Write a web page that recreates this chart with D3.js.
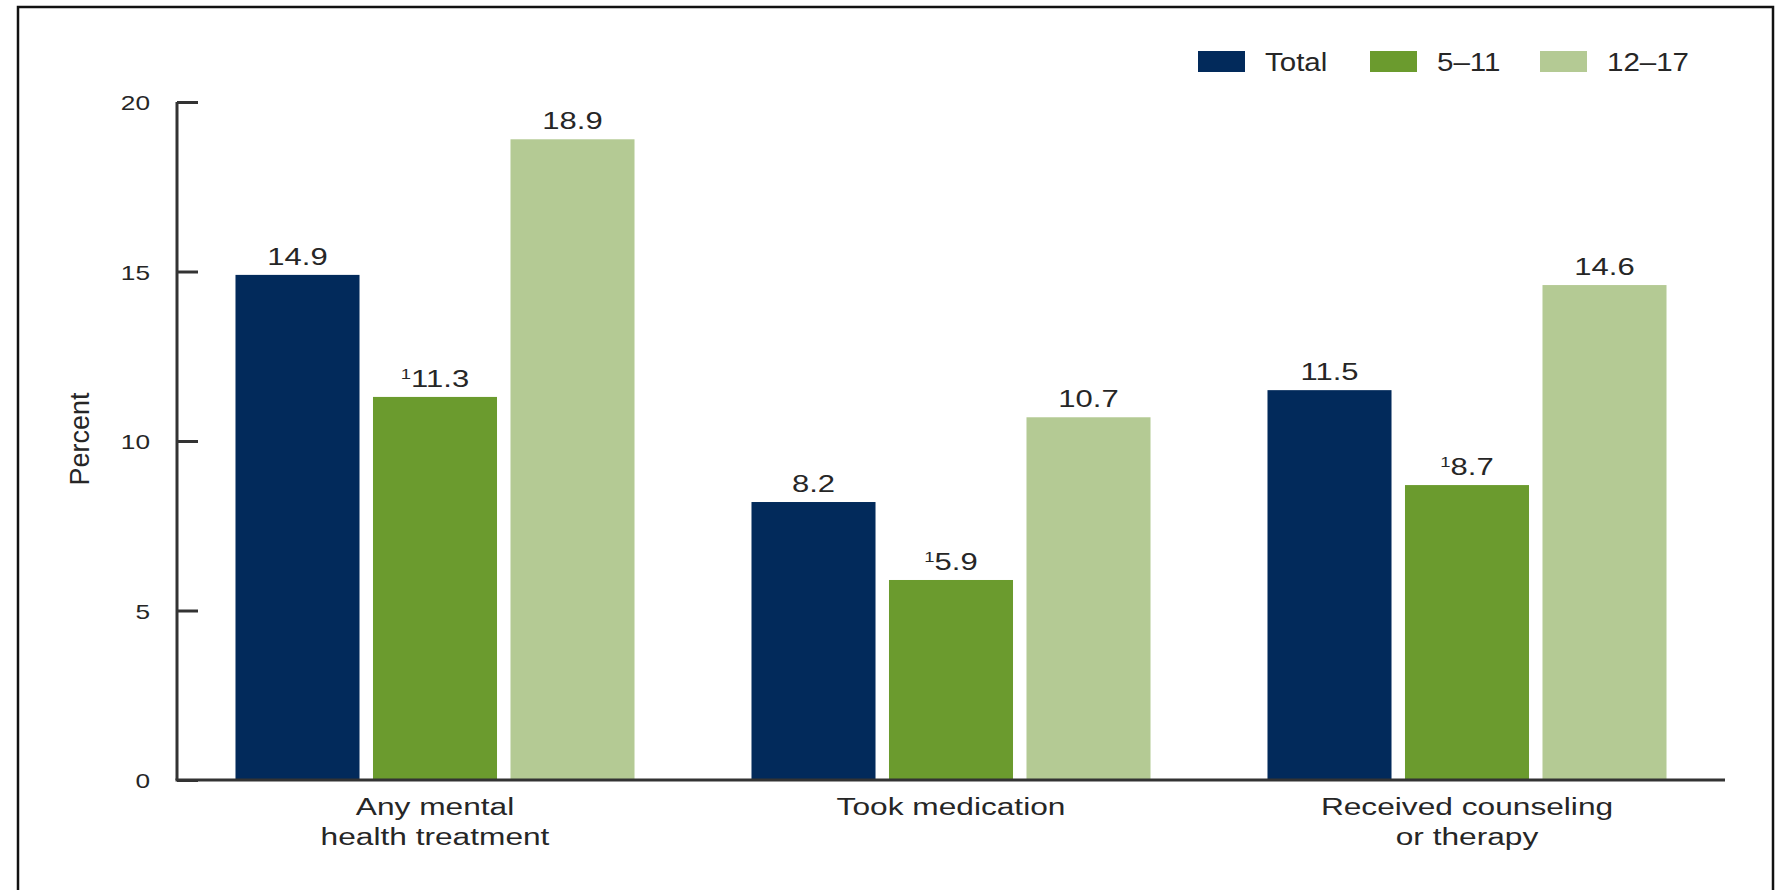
<!DOCTYPE html>
<html>
<head>
<meta charset="utf-8">
<script src="https://cdn.jsdelivr.net/npm/d3@7"></script>
<style>
  html, body { margin: 0; padding: 0; background: #fff; }
  svg { display: block; font-family: "Liberation Sans", Arial, Helvetica, sans-serif; }
</style>
</head>
<body>
<svg id="chart" width="1777" height="890"></svg>
<script>
// Mental health treatment in the past 12 months, children by age group (percent)
const categories = [["Any mental", "health treatment"], ["Took medication"], ["Received counseling", "or therapy"]];
const seriesNames = ["Total", "5–11", "12–17"];
const totalValues = [14.9, 8.2, 11.5];
const age5to11Values = [11.3, 5.9, 8.7];
const age12to17Values = [18.9, 10.7, 14.6];
// footnote marker "1" shown before the 5–11 estimates
const footnoteFlags = [[false, false, false], [true, true, true], [false, false, false]];
const yTicks = [0, 5, 10, 15, 20];
const colors = ["#022a5b", "#6b9b2e", "#b4ca94"];

const series = [totalValues, age5to11Values, age12to17Values];
const svg = d3.select("#chart");
const ink = "#262626";
const textStretch = 1.32; // glyphs in this chart are drawn wide

// outer frame
svg.append("rect")
  .attr("x", 18).attr("y", 7).attr("width", 1755).attr("height", 900)
  .attr("fill", "none").attr("stroke", "#111").attr("stroke-width", 2.5);

const x0 = d3.scaleBand()
  .domain(d3.range(categories.length))
  .range([177, 1725])
  .paddingInner(0.2267)
  .paddingOuter(0.11335);

const x1 = d3.scaleBand()
  .domain(d3.range(seriesNames.length))
  .range([0, x0.bandwidth()])
  .paddingInner(0.098)
  .paddingOuter(0);

const y = d3.scaleLinear().domain([0, 20]).range([780, 102]);

function wideText(sel, x, yy, k) {
  return sel.attr("transform", `translate(${x},${yy}) scale(${k},1)`);
}

// bars
const groups = svg.append("g").selectAll("g")
  .data(categories.map((c, i) => i))
  .join("g")
  .attr("transform", i => `translate(${x0(i)},0)`);

groups.selectAll("rect")
  .data(i => series.map((s, j) => ({ j, v: s[i] })))
  .join("rect")
  .attr("x", d => x1(d.j))
  .attr("y", d => y(d.v))
  .attr("width", x1.bandwidth())
  .attr("height", d => y(0) - y(d.v))
  .attr("fill", d => colors[d.j]);

// value labels
groups.each(function (i) {
  const g = d3.select(this);
  series.forEach((s, j) => {
    const t = g.append("text")
      .attr("text-anchor", "middle")
      .attr("fill", ink)
      .attr("font-size", 23.5);
    wideText(t, x1(j) + x1.bandwidth() / 2, y(s[i]) - 10, textStretch);
    if (footnoteFlags[j][i]) {
      t.append("tspan").attr("font-size", 14).attr("dy", -8).text("1");
      t.append("tspan").attr("dy", 8).text(d3.format(".1f")(s[i]));
    } else {
      t.text(d3.format(".1f")(s[i]));
    }
  });
});

// y axis
const yAxis = svg.append("g")
  .attr("transform", "translate(177,0)")
  .call(d3.axisRight(y).tickValues(yTicks).tickSize(21).tickFormat(d3.format("d")));
yAxis.select(".domain").attr("stroke", "#333").attr("stroke-width", 3).attr("d", `M0,${y(20)}V${y(0)}`);
yAxis.selectAll(".tick line").attr("stroke", "#333").attr("stroke-width", 3);
yAxis.selectAll(".tick text").remove();
yAxis.selectAll(".tick").each(function (d) {
  const t = d3.select(this).append("text")
    .attr("text-anchor", "end")
    .attr("dominant-baseline", "central")
    .attr("fill", ink)
    .attr("font-size", 21)
    .text(d);
  wideText(t, -27, 0, 1.25);
});

// x axis
const xAxis = svg.append("g")
  .attr("transform", `translate(0,${y(0)})`)
  .call(d3.axisBottom(x0).tickSize(0).tickFormat(""));
xAxis.select(".domain").attr("stroke", "#333").attr("stroke-width", 3).attr("d", "M175.5,0H1725");

categories.forEach((lines, i) => {
  lines.forEach((line, k) => {
    const t = svg.append("text")
      .attr("text-anchor", "middle")
      .attr("fill", ink)
      .attr("font-size", 24)
      .text(line);
    wideText(t, x0(i) + x0.bandwidth() / 2, 815 + k * 30, textStretch);
  });
});

// y axis title
svg.append("text")
  .attr("transform", "translate(89,439) rotate(-90)")
  .attr("text-anchor", "middle")
  .attr("fill", ink)
  .attr("font-size", 27)
  .text("Percent");

// legend
const legendX = [1198, 1370, 1540];
const legend = svg.append("g");
seriesNames.forEach((name, j) => {
  legend.append("rect")
    .attr("x", legendX[j]).attr("y", 51)
    .attr("width", 47).attr("height", 21)
    .attr("fill", colors[j]);
  const t = legend.append("text")
    .attr("fill", ink)
    .attr("font-size", 25)
    .attr("dominant-baseline", "central")
    .text(name);
  wideText(t, legendX[j] + 67, 62, 1.18);
});
</script>
</body>
</html>
